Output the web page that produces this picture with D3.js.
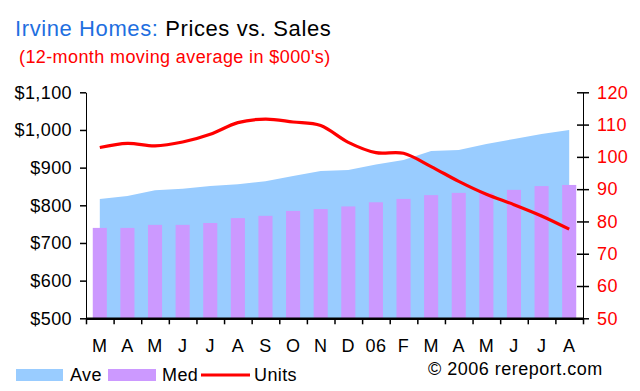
<!doctype html>
<html>
<head>
<meta charset="utf-8">
<style>
	body { margin: 0; background: #fff; }
	svg { display: block; font-family: "Liberation Sans", Arial, sans-serif; }
</style>
</head>
<body>
	<div class="chart"></div>

	<script src="https://d3js.org/d3.v7.min.js"></script>
	<script>
		// month labels, Mar 2005 .. Aug 2006
		const months = ["M", "A", "M", "J", "J", "A", "S", "O", "N", "D", "06", "F", "M", "A", "M", "J", "J", "A"];
		// 12-month moving averages, $000's
		const aveValues = [817, 825, 840, 844, 851, 856, 864, 878, 891, 894, 908, 920, 944, 947, 963, 976, 989, 1000];
		const medValues = [740, 740, 748, 748, 753, 766, 772, 785, 790, 797, 808, 817, 827, 833, 833, 841, 851, 854];
		const unitValues = [102.9, 104.2, 103.4, 104.6, 107, 110.6, 111.7, 110.8, 109.7, 104.5, 101.3, 101.1, 97, 92.4, 88.4, 85.2, 81.7, 77.6];
		const priceTicks = [500, 600, 700, 800, 900, 1000, 1100];
		const unitTicks = [50, 60, 70, 80, 90, 100, 110, 120];

		let width = 640,
			height = 391,
			plotLeft = 86,
			plotRight = 583,
			plotTop = 92.3,
			plotBottom = 318.3;

		let svg = d3.select(".chart")
			.append("svg")
			.attr("width", width)
			.attr("height", height);

		svg.append("rect").attr("width", width).attr("height", height).attr("fill", "#fff");

		let idx = d3.range(months.length);

		let x = d3.scaleBand()
			.domain(idx)
			.range([plotLeft, plotRight]);

		let xTicks = d3.scaleLinear()
			.domain([0, months.length])
			.range([plotLeft, plotRight]);

		let yPrice = d3.scaleLinear()
			.domain([500, 1100])
			.range([plotBottom, plotTop]);

		let yUnits = d3.scaleLinear()
			.domain([50, 120])
			.range([plotBottom, plotTop]);

		let cx = i => x(i) + x.bandwidth() / 2;

		// Ave area, from first to last month centre
		let area = d3.area()
			.x((d, i) => cx(i))
			.y0(yPrice(500))
			.y1(d => yPrice(d));

		svg.append("path")
			.attr("d", area(aveValues))
			.attr("fill", "#99ccff");

		// Med columns
		let barW = x.bandwidth() * 0.51;
		svg.append("g")
			.selectAll("rect")
			.data(medValues)
			.join("rect")
			.attr("x", (d, i) => cx(i) - barW / 2)
			.attr("y", d => yPrice(d))
			.attr("width", barW)
			.attr("height", d => yPrice(500) - yPrice(d))
			.attr("fill", "#cc99ff");

		// Units smoothed line
		let line = d3.line()
			.x((d, i) => cx(i))
			.y(d => yUnits(d))
			.curve(d3.curveCardinal.tension(0));

		svg.append("path")
			.attr("d", line(unitValues))
			.attr("fill", "none")
			.attr("stroke", "#ff0000")
			.attr("stroke-width", 3.2);

		// left axis
		let gL = svg.append("g")
			.attr("transform", "translate(" + plotLeft + ",0)")
			.call(d3.axisLeft(yPrice)
				.tickValues(priceTicks)
				.tickFormat(d3.format("$,"))
				.tickSize(6)
				.tickSizeOuter(0)
				.tickPadding(8));

		// right axis, ticks cross the line
		let gR = svg.append("g")
			.attr("transform", "translate(" + plotRight + ",0)")
			.call(d3.axisRight(yUnits)
				.tickValues(unitTicks)
				.tickSize(6)
				.tickSizeOuter(0)
				.tickPadding(8));
		gR.selectAll(".tick line").attr("x1", -6);
		gR.selectAll("text").attr("fill", "#ff0000");

		// x axis ticks between months
		let gX = svg.append("g")
			.attr("transform", "translate(0," + plotBottom + ")")
			.call(d3.axisBottom(xTicks)
				.tickValues(d3.range(months.length + 1))
				.tickFormat("")
				.tickSize(6)
				.tickSizeOuter(0));
		gX.select(".domain").attr("stroke-width", 2.4);

		// month labels
		let gM = svg.append("g")
			.attr("transform", "translate(0," + plotBottom + ")")
			.call(d3.axisBottom(x)
				.tickFormat(i => months[i])
				.tickSize(0)
				.tickPadding(21));
		gM.select(".domain").remove();

		svg.selectAll(".tick text")
			.attr("font-size", 18)
			.attr("font-family", "'Liberation Sans', Arial, sans-serif")
			.style("letter-spacing", "0.4px");
		gL.selectAll("text").attr("fill", "#000");
		gM.selectAll("text").attr("fill", "#000");
		svg.selectAll(".domain, .tick line").attr("stroke", "#000");
		svg.selectAll(".tick line").attr("stroke-width", 1.5);

		// titles
		let title = svg.append("text")
			.attr("x", 15)
			.attr("y", 36)
			.attr("font-size", 22)
			.style("letter-spacing", "0.6px");
		title.append("tspan").attr("fill", "#1f6fe0").text("Irvine Homes: ");
		title.append("tspan").attr("fill", "#000").text("Prices vs. Sales");

		svg.append("text")
			.attr("x", 19)
			.attr("y", 62.5)
			.attr("font-size", 18)
			.style("letter-spacing", "0.4px")
			.attr("fill", "#ff0000")
			.text("(12-month moving average in $000's)");

		// legend
		let legend = svg.append("g").attr("font-size", 18).style("letter-spacing", "0.4px");
		legend.append("rect").attr("x", 16).attr("y", 369).attr("width", 47).attr("height", 12).attr("fill", "#99ccff");
		legend.append("text").attr("x", 70).attr("y", 380.5).text("Ave");
		legend.append("rect").attr("x", 108).attr("y", 369).attr("width", 48).attr("height", 12).attr("fill", "#cc99ff");
		legend.append("text").attr("x", 162).attr("y", 380.5).text("Med");
		legend.append("line").attr("x1", 201).attr("x2", 250).attr("y1", 375).attr("y2", 375)
			.attr("stroke", "#ff0000").attr("stroke-width", 3.2);
		legend.append("text").attr("x", 254).attr("y", 380.5).text("Units");

		svg.append("text")
			.attr("x", 428)
			.attr("y", 375)
			.attr("font-size", 18)
			.style("letter-spacing", "0.5px")
			.text("\u00a9 2006 rereport.com");
	</script>
</body>
</html>
